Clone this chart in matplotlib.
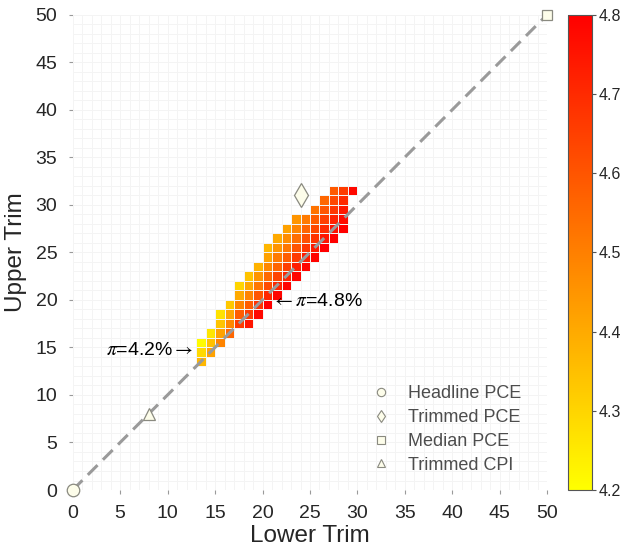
import numpy as np
import matplotlib
matplotlib.use("Agg")
import matplotlib.pyplot as plt
from matplotlib.lines import Line2D

plt.rcParams['font.family'] = ['Liberation Sans', 'DejaVu Sans']
plt.rcParams['mathtext.fontset'] = 'stix'

# lower trim of each coloured column, and the first upper trim in that column
lower_trim = [13, 14, 15, 16, 17, 18, 19, 20, 21, 22, 23, 24, 25, 26, 27, 28, 29]
first_upper = [13, 14, 15, 16, 17, 17, 18, 19, 20, 21, 22, 23, 24, 25, 26, 27, 31]

# implied inflation for each cell, going up each column
pi_values = [
    [4.37, 4.29, 4.21],
    [4.42, 4.35, 4.26],
    [4.49, 4.42, 4.34, 4.27],
    [4.56, 4.48, 4.41, 4.33],
    [4.66, 4.58, 4.49, 4.40, 4.30],
    [4.75, 4.66, 4.58, 4.49, 4.41, 4.34],
    [4.78, 4.68, 4.60, 4.52, 4.45, 4.38],
    [4.80, 4.71, 4.62, 4.55, 4.48, 4.42, 4.37],
    [4.79, 4.71, 4.64, 4.56, 4.51, 4.45, 4.40],
    [4.79, 4.72, 4.65, 4.58, 4.52, 4.47, 4.42],
    [4.79, 4.73, 4.66, 4.60, 4.54, 4.49, 4.45],
    [4.79, 4.73, 4.67, 4.61, 4.56, 4.51],
    [4.79, 4.74, 4.68, 4.63, 4.58, 4.53],
    [4.80, 4.75, 4.70, 4.65, 4.60, 4.56],
    [4.80, 4.76, 4.72, 4.67, 4.63, 4.59],
    [4.80, 4.77, 4.74, 4.70, 4.66],
    [4.78],
]

# reference measures (lower trim, upper trim)
measures = ["Headline PCE", "Trimmed PCE", "Median PCE", "Trimmed CPI"]
measure_lower = [0, 24, 50, 8]
measure_upper = [0, 31, 50, 8]
measure_marker = ["o", "d", "s", "^"]
measure_size = [9, 12, 7.5, 9]

Z = np.full((50, 50), np.nan)
for col, start, vals in zip(lower_trim, first_upper, pi_values):
    for i, v in enumerate(vals):
        Z[start + i, col] = v

fig = plt.figure(figsize=(6.24, 5.52), dpi=100)
ax = fig.add_axes([0.1165, 0.1123, 0.7606, 0.8614])

edges = np.arange(51)
mesh = ax.pcolormesh(edges, edges, np.ma.masked_invalid(Z), cmap='autumn_r',
                     vmin=4.2, vmax=4.8, edgecolors='#f4f4f4', linewidth=0.6, zorder=2)

ax.plot([0, 50], [0, 50], color='#9a9a9a', lw=2.2, dashes=(4.5, 2.5), zorder=3)

for x, y, m, s in zip(measure_lower, measure_upper, measure_marker, measure_size):
    ax.plot(x, y, marker=m, ms=s, mfc='#fdfdea', mec='#8a8a80', mew=0.9,
            ls='none', clip_on=False, zorder=5)

handles = [Line2D([], [], marker=m, ls='none', ms=6, mfc='#fdfdea', mec='#8a8a80', mew=0.8)
           for m in measure_marker]
leg = ax.legend(handles, measures, loc='lower right', bbox_to_anchor=(0.98, 0.0),
                frameon=False, fontsize=13, handletextpad=1.0, labelspacing=0.38,
                handlelength=1.0)
for t in leg.get_texts():
    t.set_color('#4d4d4d')

ax.text(12.7, 14.7, r'$\pi$=4.2%$\rightarrow$', ha='right', va='center', fontsize=14, zorder=6)
ax.text(21.0, 19.8, r'$\leftarrow\pi$=4.8%', ha='left', va='center', fontsize=14, zorder=6)

ax.set_xlim(0, 50)
ax.set_ylim(0, 50)
ax.set_xticks(np.arange(0, 51, 5))
ax.set_yticks(np.arange(0, 51, 5))
ax.set_xticks(np.arange(0, 51, 1), minor=True)
ax.set_yticks(np.arange(0, 51, 1), minor=True)
ax.grid(which='both', color='#e6e6e6', lw=0.6, zorder=0)
ax.set_axisbelow(True)
for sp in ax.spines.values():
    sp.set_visible(False)
ax.tick_params(which='major', direction='out', length=3, color='#9a9a9a',
               labelsize=14, labelcolor='#262626')
ax.tick_params(axis='x', which='major', pad=8)
ax.tick_params(axis='y', which='major', pad=8)
ax.tick_params(which='minor', length=0)

ax.set_xlabel('Lower Trim', fontsize=17.5, color='#262626', labelpad=2)
ax.set_ylabel('Upper Trim', fontsize=17.5, color='#262626', labelpad=6)

cax = fig.add_axes([0.911, 0.1123, 0.037, 0.8614])
cb = fig.colorbar(mesh, cax=cax, ticks=[4.2, 4.3, 4.4, 4.5, 4.6, 4.7, 4.8])
cb.ax.set_yticklabels(['4.2', '4.3', '4.4', '4.5', '4.6', '4.7', '4.8'])
cb.ax.tick_params(direction='out', length=3, labelsize=11.5, labelcolor='#262626',
                  color='#555555', pad=2)
cb.outline.set_edgecolor('#555555')
cb.outline.set_linewidth(0.8)

fig.savefig('out.png', dpi=100)
